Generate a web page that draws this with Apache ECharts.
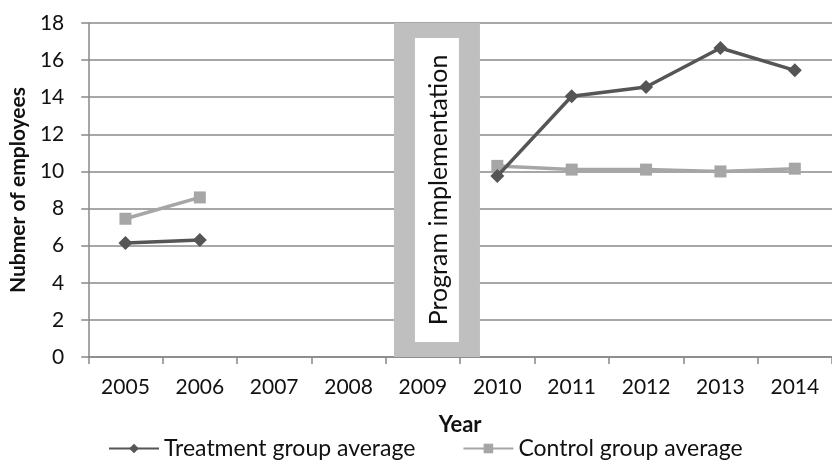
<!DOCTYPE html>
<html><head><meta charset="utf-8">
<script src="https://cdn.jsdelivr.net/npm/echarts@6/dist/echarts.min.js"></script>
<style>html,body{margin:0;padding:0;background:#fff}#c{width:832px;height:465px}</style>
</head><body><div id="c"></div>
<script>
const years = ['2005','2006','2007','2008','2009','2010','2011','2012','2013','2014'];
const treatment = [6.15, 6.3, null, null, null, 9.75, 14.05, 14.55, 16.65, 15.45];
const control = [7.45, 8.6, null, null, null, 10.3, 10.1, 10.1, 10.0, 10.15];
const yTicks = [0, 2, 4, 6, 8, 10, 12, 14, 16, 18];
const FONT = 'Lato';
const chart = echarts.init(document.getElementById('c'));
chart.setOption({
  animation: false,
  textStyle: { fontFamily: FONT },
  grid: { left: 88, top: 23, width: 748, height: 334 },
  xAxis: {
    type: 'category', data: years, boundaryGap: true,
    name: 'Year', nameLocation: 'middle', nameGap: 57,
    nameTextStyle: { fontFamily: FONT, fontWeight: 'bold', fontSize: 22, color: '#111' },
    axisLine: { lineStyle: { color: '#888', width: 1.5 } },
    axisTick: { show: true, length: 7, lineStyle: { color: '#888', width: 1.5 } },
    axisLabel: { fontFamily: FONT, fontSize: 21, color: '#111', margin: 20 }
  },
  yAxis: {
    type: 'value', min: yTicks[0], max: yTicks[yTicks.length-1], interval: 2,
    name: 'Nubmer of employees', nameLocation: 'middle', nameGap: 58,
    nameTextStyle: { fontFamily: FONT, fontWeight: 'bold', fontSize: 21, color: '#111' },
    axisLine: { show: true, lineStyle: { color: '#888', width: 1.5 } },
    axisTick: { show: true, length: 7, lineStyle: { color: '#888', width: 1.5 } },
    axisLabel: { fontFamily: FONT, fontSize: 21, color: '#111', margin: 24 },
    splitLine: { lineStyle: { color: '#8a8a8a', width: 1.5 } }
  },
  legend: {
    bottom: 0, left: 103, itemWidth: 50, itemHeight: 12, itemGap: 47,
    textStyle: { fontFamily: FONT, fontSize: 23, color: '#111' },
    data: ['Treatment group average', 'Control group average']
  },
  series: [
    { name: 'Treatment group average', type: 'line', data: treatment, connectNulls: false,
      symbol: 'diamond', symbolSize: 14, z: 3,
      lineStyle: { color: '#555555', width: 3.5 }, itemStyle: { color: '#555555' } },
    { name: 'Control group average', type: 'line', data: control, connectNulls: false,
      symbol: 'rect', symbolSize: 12, z: 2,
      lineStyle: { color: '#a6a6a6', width: 3.5 }, itemStyle: { color: '#a6a6a6' } }
  ]
});
// implementation band annotation
const x9 = chart.convertToPixel({xAxisIndex:0}, '2009');
const yTop = chart.convertToPixel({yAxisIndex:0}, 18);
const yBot = chart.convertToPixel({yAxisIndex:0}, 0);
const cx = x9 + 14;
chart.setOption({ graphic: [
  { type: 'rect', z: 1, shape: { x: cx - 43, y: yTop, width: 86, height: yBot - yTop }, style: { fill: '#bfbfbf' } },
  { type: 'rect', z: 1, shape: { x: cx - 22, y: yTop + 15, width: 44, height: yBot - yTop - 30 }, style: { fill: '#ffffff' } },
  { type: 'text', z: 2, x: cx + 2, y: (yTop + yBot) / 2, rotation: Math.PI / 2,
    style: { text: 'Program implementation', fontFamily: FONT, fontSize: 25, fill: '#111', align: 'center', verticalAlign: 'middle' } }
]});
</script></body></html>
